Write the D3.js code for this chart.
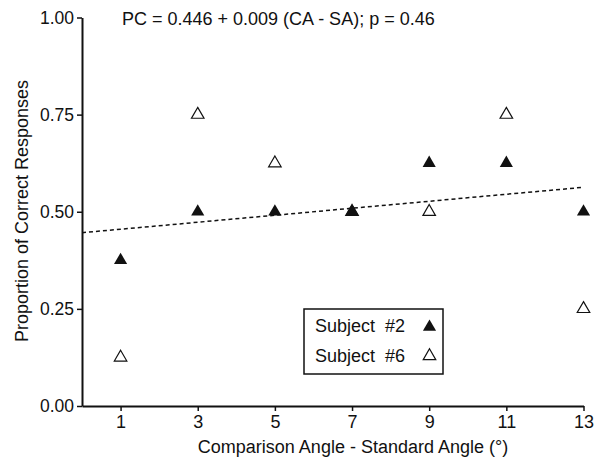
<!DOCTYPE html>
<html>
<head>
<meta charset="utf-8">
<script src="https://cdn.jsdelivr.net/npm/d3@7"></script>
<style>
  body { margin: 0; background: #fff; }
  text { font-family: "Liberation Sans", Arial, sans-serif; fill: #111; }
</style>
</head>
<body>
<svg id="chart" width="602" height="460"></svg>
<script>
const angles = [1, 3, 5, 7, 9, 11, 13];
const subject2 = [0.375, 0.5, 0.5, 0.5, 0.625, 0.625, 0.5];
const subject6 = [0.125, 0.75, 0.625, 0.5, 0.5, 0.75, 0.25];
const yTicks = [0, 0.25, 0.5, 0.75, 1];
const fitIntercept = 0.446;
const fitSlope = 0.009;
const fitLabel = "PC = 0.446 + 0.009 (CA - SA); p = 0.46";

const svg = d3.select("#chart");
const fontSize = 18;

const x = d3.scaleLinear().domain([0, 13]).range([82, 583.5]);
const y = d3.scaleLinear().domain([0, 1]).range([406, 17.5]);

// axes
const xAxis = svg.append("g")
  .attr("transform", `translate(0,${y(0)})`)
  .call(d3.axisBottom(x).tickValues(angles).tickSize(5).tickSizeOuter(0).tickPadding(4));
const yAxis = svg.append("g")
  .attr("transform", `translate(${x(0)},0)`)
  .call(d3.axisLeft(y).tickValues(yTicks).tickSize(5).tickSizeOuter(0)
    .tickFormat(d3.format(".2f")).tickPadding(3));

[xAxis, yAxis].forEach((g) => {
  g.select(".domain").attr("stroke", "#111").attr("stroke-width", 2);
  g.selectAll(".tick line").attr("stroke", "#111").attr("stroke-width", 1.5);
  g.selectAll(".tick text").attr("font-size", fontSize)
    .attr("font-family", "Liberation Sans, Arial, sans-serif").attr("fill", "#111");
});
yAxis.selectAll(".tick text").attr("font-size", 17.5);

// axis titles
svg.append("text")
  .attr("x", 353).attr("y", 453)
  .attr("text-anchor", "middle").attr("font-size", fontSize)
  .text("Comparison Angle - Standard Angle (°)");
svg.append("text")
  .attr("transform", `translate(28,211) rotate(-90)`)
  .attr("text-anchor", "middle").attr("font-size", fontSize)
  .text("Proportion of Correct Responses");

// regression line
svg.append("line")
  .attr("x1", x(0)).attr("y1", y(fitIntercept))
  .attr("x2", x(13)).attr("y2", y(fitIntercept + fitSlope * 13))
  .attr("stroke", "#111").attr("stroke-width", 1.5)
  .attr("stroke-dasharray", "4,3");

svg.append("text")
  .attr("x", 122).attr("y", 25)
  .attr("font-size", fontSize)
  .text(fitLabel);

// points
const tri = d3.symbol().type(d3.symbolTriangle).size(75);
const triOpen = d3.symbol().type(d3.symbolTriangle).size(68);

svg.append("g").selectAll("path")
  .data(angles.map((a, i) => [a, subject6[i]]))
  .join("path")
  .attr("transform", (d) => `translate(${x(d[0])},${y(d[1])})`)
  .attr("d", triOpen)
  .attr("fill", "#fff").attr("stroke", "#111").attr("stroke-width", 1.2);

svg.append("g").selectAll("path")
  .data(angles.map((a, i) => [a, subject2[i]]))
  .join("path")
  .attr("transform", (d) => `translate(${x(d[0])},${y(d[1])})`)
  .attr("d", tri)
  .attr("fill", "#111");

// legend
const legend = svg.append("g").attr("transform", "translate(304,309)");
legend.append("rect")
  .attr("width", 139).attr("height", 65)
  .attr("fill", "#fff").attr("stroke", "#111").attr("stroke-width", 1.5);
legend.append("text").attr("x", 11).attr("y", 23).attr("font-size", fontSize)
  .attr("xml:space", "preserve").text("Subject  #2");
legend.append("text").attr("x", 11).attr("y", 53).attr("font-size", fontSize)
  .attr("xml:space", "preserve").text("Subject  #6");
legend.append("path").attr("transform", "translate(125.5,18)").attr("d", tri).attr("fill", "#111");
legend.append("path").attr("transform", "translate(125.5,47)").attr("d", triOpen)
  .attr("fill", "#fff").attr("stroke", "#111").attr("stroke-width", 1.2);
</script>
</body>
</html>
